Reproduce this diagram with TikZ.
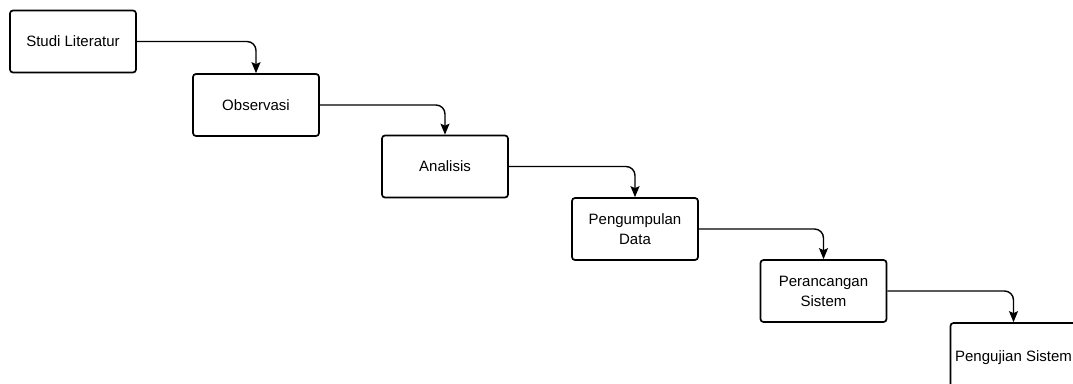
\documentclass[tikz,border=0pt]{standalone}
\usepackage{fontspec}
\setmainfont{Liberation Sans}
\usetikzlibrary{arrows.meta}
\begin{document}
\begin{tikzpicture}[
        x=1pt, y=-1pt,
        stepbox/.style={draw=black, line width=1.7pt, rounded corners=3pt, fill=white,
            minimum width=126pt, minimum height=62pt, align=center,
            font=\fontsize{15}{20}\selectfont},
        flowarrow/.style={black, line width=1.4pt, rounded corners=9pt,
            -{Stealth[length=11pt, width=9pt, inset=2pt]}}
    ]

    % ==========================================
    % Canvas (fixed size, last box runs off the edge)
    % ==========================================
    \clip (0,0) rectangle (1073,383);
    \fill[white] (0,0) rectangle (1073,383);

    % ==========================================
    % Steps
    % ==========================================
    \node[stepbox] (literatur) at (73, 41.5) {Studi Literatur};
    \node[stepbox] (observasi) at (256, 105) {Observasi};
    \node[stepbox] (analisis)  at (445, 166.5) {Analisis};
    \node[stepbox] (data)      at (635, 229) {Pengumpulan\\Data};
    \node[stepbox] (rancang)   at (823.5, 291) {Perancangan\\Sistem};
    \node[stepbox, minimum height=70pt] (uji) at (1013.5, 358) {Pengujian Sistem};

    % ==========================================
    % Connectors
    % ==========================================
    \draw[flowarrow] (literatur.east) -| (observasi.north);
    \draw[flowarrow] (observasi.east) -| (analisis.north);
    \draw[flowarrow] (analisis.east) -| (data.north);
    \draw[flowarrow] (data.east) -| (rancang.north);
    \draw[flowarrow] (rancang.east) -| (uji.north);

\end{tikzpicture}
\end{document}
